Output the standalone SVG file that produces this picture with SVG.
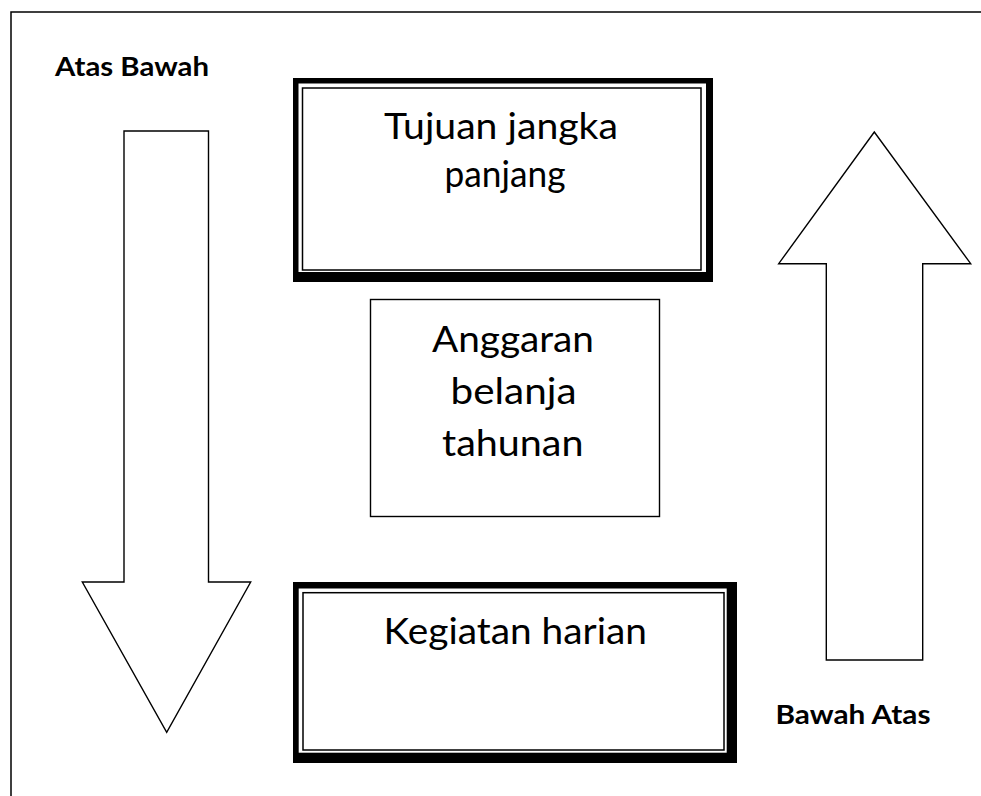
<svg xmlns="http://www.w3.org/2000/svg" width="981" height="796" viewBox="0 0 981 796">
  <style>
    .frame { fill: none; stroke: #000; stroke-width: 1.5; }
    .shape { fill: #fff; stroke: #000; stroke-width: 1.4; stroke-linejoin: miter; }
    .thin { fill: none; stroke: #000; stroke-width: 1.5; }
    .body { font-family: Lato, "Open Sans", "Liberation Sans", sans-serif; font-size: 37px; fill: #000; }
    .label { font-family: Lato, "Open Sans", "Liberation Sans", sans-serif; font-size: 27px; font-weight: bold; fill: #000; }
  </style>
  <rect width="981" height="796" fill="#fff"/>

  <!-- page frame (top and left edges) -->
  <path class="frame" d="M11,796 V12 H981"/>

  <g id="connectors">
    <!-- top-down arrow -->
    <path id="arrow-down" class="shape" d="M124,131 H208.5 V582 H250.7 L166.7,732.3 L82.3,582 H124 Z"/>
    <!-- bottom-up arrow -->
    <path id="arrow-up" class="shape" d="M826.3,660 V263.7 H778.7 L874.3,132 L970.7,263.7 H922.7 V660 Z"/>
  </g>

  <g id="label-top-down">
    <text class="label" x="55" y="75.5" textLength="154" lengthAdjust="spacingAndGlyphs">Atas Bawah</text>
  </g>
  <g id="label-bottom-up">
    <text class="label" x="775.5" y="723.5" textLength="155" lengthAdjust="spacingAndGlyphs">Bawah Atas</text>
  </g>

  <g id="node-long-term">
    <rect x="293" y="78" width="420" height="204" fill="#000"/>
    <rect x="298.5" y="83.5" width="407.5" height="188.5" fill="#fff"/>
    <rect class="thin" x="302.5" y="88" width="398.5" height="182"/>
    <text class="body" x="384" y="139.3" textLength="234" lengthAdjust="spacingAndGlyphs">Tujuan jangka</text>
    <text class="body" x="444.5" y="187.3" textLength="121" lengthAdjust="spacingAndGlyphs">panjang</text>
  </g>

  <g id="node-annual-budget">
    <rect class="shape" x="370.5" y="299.5" width="289" height="217"/>
    <text class="body" x="432" y="351.7" textLength="162" lengthAdjust="spacingAndGlyphs">Anggaran</text>
    <text class="body" x="450.5" y="403.5" textLength="126" lengthAdjust="spacingAndGlyphs">belanja</text>
    <text class="body" x="442" y="456" textLength="141.5" lengthAdjust="spacingAndGlyphs">tahunan</text>
  </g>

  <g id="node-daily">
    <rect x="293" y="582" width="444" height="181" fill="#000"/>
    <rect x="298.7" y="588.5" width="428" height="164.2" fill="#fff"/>
    <rect class="thin" x="303" y="592.7" width="421" height="157.3"/>
    <text class="body" x="383.5" y="644.3" textLength="263.5" lengthAdjust="spacingAndGlyphs">Kegiatan harian</text>
  </g>
</svg>
